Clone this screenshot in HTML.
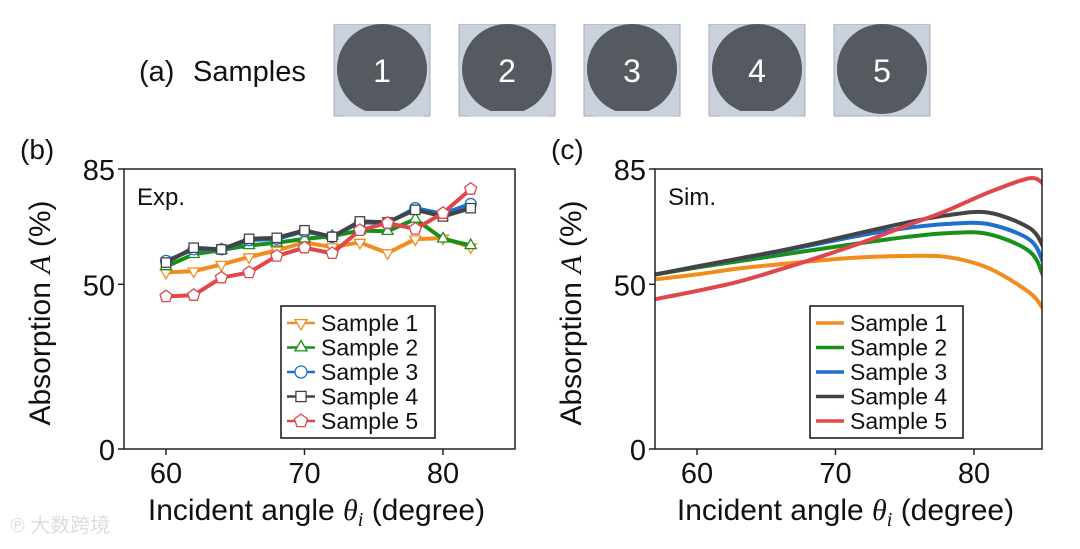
<!DOCTYPE html>
<html><head><meta charset="utf-8"><style>
body{margin:0;background:#fff;width:1080px;height:544px;overflow:hidden;font-family:"Liberation Sans",Arial,sans-serif}
svg text{font-family:"Liberation Sans",Arial,sans-serif}
</style></head><body>
<svg id="fig" width="1080" height="544" viewBox="0 0 1080 544">
<g id="topRow">
<text x="139" y="81" font-size="29" fill="#111">(a)</text>
<text x="193" y="81" font-size="29" fill="#111">Samples</text>
</g>
<g id="chartB"></g>
<g id="chartC"></g>
<text x="10" y="532" font-size="20" fill="#ddd">℗ 大数跨境</text>
</svg>
<script>
const NS="http://www.w3.org/2000/svg";
const colors=["#f28c1c","#1a8f1a","#1f6fcf","#444444","#e0474c"];
const sampleNames=["Sample 1","Sample 2","Sample 3","Sample 4","Sample 5"];
const expAngles=[60,62,64,66,68,70,72,74,76,78,80,82];
const exp1=[53.6,54.0,56.0,58.3,60.3,62.7,61.3,62.7,59.5,63.7,64.0,61.3];
const exp2=[55.4,59.1,60.4,61.8,62.6,63.8,64.6,66.3,66.1,69.8,63.8,61.8];
const exp3=[57.1,60.6,60.6,63.4,63.8,66.1,64.4,68.8,68.6,73.1,71.4,74.4];
const exp4=[56.6,61.1,60.6,63.8,64.1,66.4,64.4,69.1,68.8,72.6,70.6,73.1];
const exp5=[46.3,46.7,52.0,53.6,58.6,61.1,59.4,66.4,68.6,66.8,71.6,78.9];
const simAngles=[57,60,63,66,69,72,75,78,81,84,85];
const sim1=[51.5,53.0,54.8,56.1,57.3,58.2,58.6,58.3,55.0,47.5,42.5];
const sim2=[53.0,55.1,57.0,58.9,60.8,62.6,64.3,65.5,65.3,60.0,52.5];
const sim3=[53.0,55.4,57.7,60.0,62.5,65.0,67.0,68.3,68.3,63.6,56.6];
const sim4=[53.0,55.4,57.8,60.2,62.9,65.8,68.6,70.9,71.8,67.1,61.4];
const sim5=[45.5,48.0,50.8,54.5,58.5,62.8,67.6,72.3,77.8,82.2,80.5];
const yTicks=[0,50,85];
const xTicks=[60,70,80];
const markers=["tri-down","tri-up","circle","square","pentagon"];

function el(tag,attrs,parent){const e=document.createElementNS(NS,tag);for(const k in attrs)e.setAttribute(k,attrs[k]);parent.appendChild(e);return e;}

const topG=document.getElementById('topRow');
for(let i=0;i<5;i++){
  const x0=334+i*125;
  const g=el('g',{},topG);
  
  
  el('rect',{x:x0,y:24,width:96,height:92,fill:"#c9d1dc",stroke:"#aab",'stroke-width':1},g);
  el('circle',{cx:x0+48,cy:69,r:45,fill:"#555a60"},g);
  el('rect',{x:x0,y:18,width:96,height:6,fill:"#fff"},g);
  if(i<4){el('rect',{x:x0+10,y:111,width:80,height:5,fill:"#c9d1dc"},g);}
  const t=el('text',{x:x0+48,y:82,'font-size':32,fill:"#fff",'text-anchor':"middle"},g);
  t.textContent=String(i+1);
}

function drawChart(gid,L,R,xmin,xmax,x60,panel,tag,isExp){
  const g=document.getElementById(gid);
  const T=169,B=449;
  const X=v=>x60+(v-60)*13.85;
  const Y=v=>B-v*(B-T)/85;
  const clip=el('clipPath',{id:'clip'+gid},g);
  el('rect',{x:L,y:T,width:R-L,height:B-T},clip);
  const pl=el('text',{x:L-104,y:159,'font-size':28,fill:'#111'},g);
  pl.textContent=panel;
  
  
  yTicks.forEach(v=>{
    el('line',{x1:L-6,x2:L,y1:Y(v),y2:Y(v),stroke:'#222','stroke-width':1.5},g);
    const t=el('text',{x:L-9,y:Y(v)+11,'font-size':29,'text-anchor':'end',fill:'#111'},g);
    t.textContent=v;
    
    
  });
  xTicks.forEach(v=>{
    el('line',{x1:X(v),x2:X(v),y1:B,y2:B+6,stroke:'#222','stroke-width':1.5},g);
    const t=el('text',{x:X(v),y:B+34,'font-size':29,'text-anchor':'middle',fill:'#111'},g);
    t.textContent=v;
    
    
  });
  const yt=el('text',{transform:`translate(${L-74},${(T+B)/2+4}) rotate(-90)`,'font-size':30,'text-anchor':'middle',fill:'#111'},g);
  yt.innerHTML='Absorption <tspan font-style="italic" font-family="Liberation Serif">A</tspan> (%)';
  
  
  const xt=el('text',{x:(L+R)/2-3,y:520,'font-size':30,'text-anchor':'middle',fill:'#111'},g);
  xt.innerHTML='Incident angle <tspan font-style="italic" font-family="Liberation Serif">θ</tspan><tspan font-style="italic" font-family="Liberation Serif" font-size="20" dy="6">i</tspan><tspan dy="-6"> (degree)</tspan>';
  
  
  const tg=el('text',{x:L+13,y:T+36,'font-size':24,fill:'#111'},g);
  tg.textContent=tag;
  
  

  const series=isExp?[exp1,exp2,exp3,exp4,exp5]:[sim1,sim2,sim3,sim4,sim5];
  const ang=isExp?expAngles:simAngles;
  const sg=el('g',{'clip-path':`url(#clip${gid})`},g);
  series.forEach((s,k)=>{
    const pts=s.map((v,i)=>[X(ang[i]),Y(v)]);
    let d;
    if(isExp){d='M'+pts.map(p=>p.join(',')).join('L');}
    else{
      d='M'+pts[0].join(',');
      for(let i=0;i<pts.length-1;i++){
        const p0=pts[Math.max(0,i-1)],p1=pts[i],p2=pts[i+1],p3=pts[Math.min(pts.length-1,i+2)];
        const c1=[p1[0]+(p2[0]-p0[0])/6,p1[1]+(p2[1]-p0[1])/6];
        const c2=[p2[0]-(p3[0]-p1[0])/6,p2[1]-(p3[1]-p1[1])/6];
        d+=`C${c1} ${c2} ${p2}`;
      }
    }
    const path=el('path',{d:d,fill:'none',stroke:colors[k],'stroke-width':4,'stroke-linejoin':'round'},sg);
    
    
    if(isExp){
      pts.forEach(p=>{
        const m=drawMarker(sg,markers[k],p[0],p[1],colors[k],5.5);
        
        
      });
    }
  });
  const fr=el('rect',{x:L,y:T,width:R-L,height:B-T,fill:'none',stroke:'#222','stroke-width':1.5},g);
  
  
  const lx=isExp?281:810, lw=isExp?154:153;
  const lg=el('g',{},g);
  
  
  el('rect',{x:lx,y:306,width:lw,height:132,fill:'#fff',stroke:'#111','stroke-width':1.5},lg);
  sampleNames.forEach((n,k)=>{
    const yy=323+k*24.5;
    const e=el('g',{},lg);
    
    
    el('line',{x1:lx+6,x2:lx+34,y1:yy,y2:yy,stroke:colors[k],'stroke-width':isExp?2.5:3.5},e);
    if(isExp)drawMarker(e,markers[k],lx+20,yy,colors[k],6);
    const t=el('text',{x:lx+40,y:yy+8,'font-size':23,fill:'#111'},e);
    t.textContent=n;
  });
}
function drawMarker(p,type,x,y,c,r){
  const a={fill:'#fff',stroke:c,'stroke-width':1.3};
  let m;
  if(type==='circle')m=el('circle',Object.assign({cx:x,cy:y,r:r},a),p);
  else if(type==='square')m=el('rect',Object.assign({x:x-r*0.85,y:y-r*0.85,width:r*1.7,height:r*1.7},a),p);
  else{
    let n=type==='pentagon'?5:3, rot=type==='tri-down'?Math.PI/2:-Math.PI/2;
    const pts=[];for(let i=0;i<n;i++){const t=rot+i*2*Math.PI/n;pts.push((x+r*1.15*Math.cos(t)).toFixed(1)+','+(y+r*1.15*Math.sin(t)).toFixed(1));}
    m=el('polygon',Object.assign({points:pts.join(' ')},a),p);
  }
  return m;
}
drawChart('chartB',124,515,57,84,166,'(b)','Exp.',true);
drawChart('chartC',655,1042,57,85,697,'(c)','Sim.',false);
</script>
</body></html>
